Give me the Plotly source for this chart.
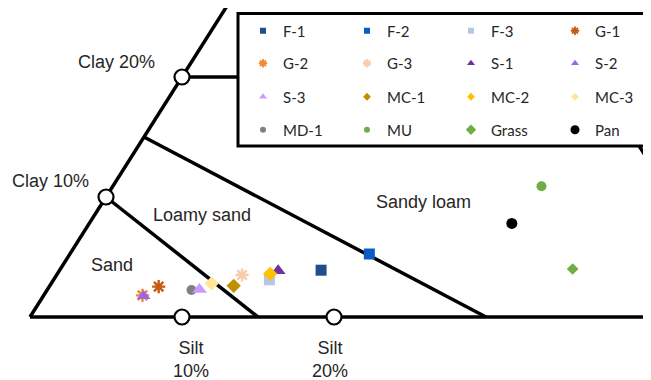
import plotly.graph_objects as go

# ---- data (silt %, clay %) ----
series = ["F-1", "F-2", "F-3", "G-1", "G-2", "G-3", "S-1", "S-2",
          "S-3", "MC-1", "MC-2", "MC-3", "MD-1", "MU", "Grass", "Pan"]
silt = [17.2, 19.7, 14.2, 7.2, 6.5, 12.2, 14.4, 6.6,
        10.0, 12.1, 14.0, 10.55, 9.5, 28.2, 33.7, 27.8]
clay = [3.9, 5.25, 3.1, 2.53, 1.8, 3.5, 3.85, 1.75,
        2.3, 2.6, 3.6, 2.8, 2.25, 10.9, 4.0, 7.8]
colors = ["#1F4E8C", "#0A5CC2", "#B4C7E7", "#C55A11", "#F4862E", "#F8CBAD",
          "#7030A0", "#9966EE", "#CC99FF", "#BF8F00", "#FFC000", "#FFE699",
          "#808080", "#70AD47", "#70AD47", "#000000"]
symbols = ["square", "square", "square", "asterisk-open", "asterisk-open", "asterisk-open",
           "triangle-up", "triangle-up", "triangle-up", "diamond", "diamond", "diamond",
           "circle", "circle", "diamond", "circle"]
plot_sizes = [11, 11, 11, 11, 11, 11, 13, 12, 13, 11, 11, 11, 10, 10, 9, 11]
legend_sizes = [6, 6, 6, 7, 7, 7, 7, 7, 7, 6, 6, 6, 6, 6, 8, 9]

silt_ticks = [10, 20]
clay_ticks = [10, 20]

WIN_W, WIN_H = 651, 380
OFF = 8                       # page body margin
W, H = WIN_W - OFF, WIN_H - OFF
SX, SY = 15.2, 12.0           # pixels per % (silt), per % (clay)
X0, Y0 = 30, 317              # sand corner, window pixels

# drawing order (later = on top), as in the reference
draw_order = [0, 1, 2, 3, 4, 5, 6, 12, 7, 8, 9, 10, 11, 13, 14, 15]


def proj(s, c):
    """ternary (silt, clay) -> cartesian axis units"""
    return s + c / 2.0, c


def px(x, y):
    """window pixel -> paper coords"""
    return (x - OFF) / W, 1 - (y - OFF) / H


def px_data(x, y):
    """window pixel -> axis units"""
    return (x - X0) / SX, (Y0 - y) / SY


fig = go.Figure()


def line(s0, c0, s1, c1):
    x0, y0 = proj(s0, c0)
    x1, y1 = proj(s1, c1)
    return dict(type="line", xref="x", yref="y", x0=x0, y0=y0, x1=x1, y1=y1,
                line=dict(color="black", width=3.5), layer="below")


shapes = [
    line(0, 0, 60, 0),          # bottom edge
    line(0, 0, 0, 30),          # left edge (silt 0)
    line(0, 10, 15, 0),         # sand / loamy sand
    line(0, 15, 30, 0),         # loamy sand / sandy loam
    line(0, 20, 30, 20),        # clay 20 %
    line(27.2, 20, 40.2, 7),    # sandy loam / loam
]

# legend box (drawn after the lines so it hides them)
bx0, by1 = px_data(238, 13.5)
bx1, by0 = px_data(700, 146)
shapes.append(dict(type="rect", xref="x", yref="y", x0=bx0, x1=bx1, y0=by0, y1=by1,
                   line=dict(color="black", width=3), fillcolor="white", layer="below"))

rows = ["legend", "legend2", "legend3", "legend4"]

# legend entries (legend order)
for i, name in enumerate(series):
    is_open = symbols[i].endswith("open")
    mk_leg = dict(symbol=symbols[i], color=colors[i], size=legend_sizes[i],
                  line=dict(width=1.8 if is_open else 0, color=colors[i]))
    fig.add_trace(go.Scatter(x=[None], y=[None], mode="markers", marker=mk_leg,
                             name=name, showlegend=True, legend=rows[i // 4]))

# data points
for i in draw_order:
    xs, ys = proj(silt[i], clay[i])
    is_open = symbols[i].endswith("open")
    mk = dict(symbol=symbols[i], color=colors[i], size=plot_sizes[i],
              line=dict(width=2.4 if is_open else 0, color=colors[i]))
    fig.add_trace(go.Scatter(x=[xs], y=[ys], mode="markers", marker=mk,
                             name=series[i], showlegend=False, cliponaxis=False))

# axis tick circles
tx = [proj(s, 0)[0] for s in silt_ticks] + [proj(0, c)[0] for c in clay_ticks]
ty = [proj(s, 0)[1] for s in silt_ticks] + [proj(0, c)[1] for c in clay_ticks]
fig.add_trace(go.Scatter(x=tx, y=ty, mode="markers", showlegend=False, cliponaxis=False,
                         marker=dict(symbol="circle", size=15, color="white",
                                     line=dict(color="black", width=2.2))))

labels = [("Clay 20%", 116, 62), ("Clay 10%", 50.5, 181), ("Loamy sand", 202, 215),
          ("Sand", 112, 265), ("Sandy loam", 423.5, 202),
          ("Silt<br>10%", 191, 359.5), ("Silt<br>20%", 330, 359.5)]
annotations = []
for t, x, y in labels:
    ax, ay = px(x, y)
    annotations.append(dict(text=t, x=ax, y=ay, xref="paper", yref="paper",
                            showarrow=False, xanchor="center", yanchor="middle",
                            font=dict(family="Liberation Sans, Arial", size=18, color="#262626")))

leg_common = dict(orientation="h", xanchor="left", yanchor="middle", entrywidth=59,
                  bgcolor="rgba(0,0,0,0)", borderwidth=0,
                  font=dict(family="Lato, Open Sans", size=15, color="#262626"))
row_y = [31, 63.5, 97, 130]
leg_layout = {}
for k, r in enumerate(rows):
    lx, ly = px(243, row_y[k])
    leg_layout[r] = dict(x=lx, y=ly, **leg_common)

fig.update_layout(
    width=W, height=H, margin=dict(l=0, r=0, t=0, b=0, autoexpand=False),
    paper_bgcolor="white", plot_bgcolor="white",
    xaxis=dict(visible=False, range=[(OFF - X0) / SX, (WIN_W - X0) / SX], fixedrange=True),
    yaxis=dict(visible=False, range=[(Y0 - WIN_H) / SY, (Y0 - OFF) / SY], fixedrange=True),
    shapes=shapes, annotations=annotations, showlegend=True,
    **leg_layout,
)

fig.write_html("out.html")
